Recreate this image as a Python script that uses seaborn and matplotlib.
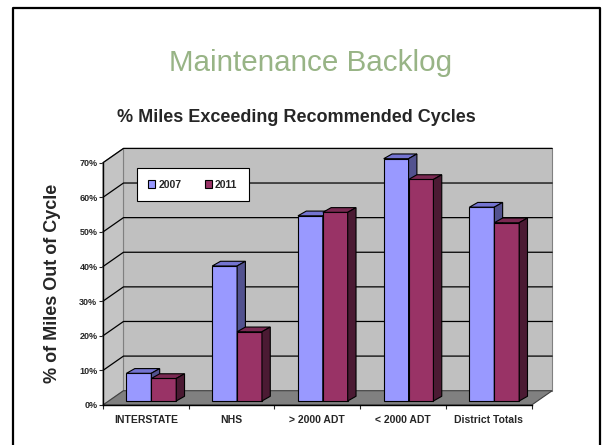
import numpy as np
import pandas as pd
import seaborn as sns
import matplotlib.pyplot as plt
from matplotlib.patches import Polygon, Rectangle
from matplotlib.transforms import Affine2D
from matplotlib.lines import Line2D

categories = ["INTERSTATE", "NHS", "> 2000 ADT", "< 2000 ADT", "District Totals"]
years = ["2007", "2011"]
pct_2007 = [8, 39, 53.5, 70, 56]
pct_2011 = [6.5, 20, 54.5, 64, 51.5]

front_colors = {"2007": "#9999ff", "2011": "#993366"}
top_colors = {"2007": "#7474d0", "2011": "#7a2952"}
side_colors = {"2007": "#52528f", "2011": "#4b1a33"}

df = pd.DataFrame({
    "category": categories * 2,
    "pct": pct_2007 + pct_2011,
    "year": [years[0]] * len(categories) + [years[1]] * len(categories),
})

sns.set_style("white")
plt.rcParams["font.family"] = ["Liberation Sans", "DejaVu Sans"]

W, H = 602, 445
fig = plt.figure(figsize=(W / 100, H / 100), dpi=100)

# front plane of the 3d box, in pixels
x0, x1, y0, y1 = 103, 531.7, 405, 162.7
ax = fig.add_axes([x0 / W, 1 - y0 / H, (x1 - x0) / W, (y0 - y1) / H])
ax.set_facecolor("none")

n = len(categories)
sns.barplot(data=df, x="category", y="pct", hue="year", palette=front_colors,
            saturation=1, width=0.58, edgecolor="black", linewidth=0.8, ax=ax)
bars = list(ax.patches)[:2 * n]   # 2007 bars first, then 2011

ax.set_xlim(-0.5, n - 0.5)
ax.set_ylim(0, 70)

# depth offsets (data units)
back_dx, back_dy = 0.239, 4.13
bar_dx, bar_dy = 0.064, 1.16
side_dx, side_dy = 0.097, 1.36
xl, xr = -0.5, n - 0.5

# walls and floor
ax.add_patch(Rectangle((xl + back_dx, back_dy), xr - xl, 70, facecolor="#c0c0c0",
                       edgecolor="#808080", lw=0.8, zorder=0.5, clip_on=False))
ax.add_patch(Polygon([(xl, 0), (xl, 70), (xl + back_dx, 70 + back_dy), (xl + back_dx, back_dy)],
                     closed=True, facecolor="#c4c4c4", edgecolor="#808080", lw=0.8,
                     zorder=0.6, clip_on=False))
ax.add_patch(Polygon([(xl, 0), (xr, 0), (xr + back_dx, back_dy), (xl + back_dx, back_dy)],
                     closed=True, facecolor="#808080", edgecolor="#404040", lw=0.8,
                     zorder=1, clip_on=False))
for v in range(10, 71, 10):
    ax.add_line(Line2D([xl, xl + back_dx, xr + back_dx], [v, v + back_dy, v + back_dy],
                       color="black", lw=0.9, zorder=1.2, clip_on=False))

# 3d faces of the bars
shift = Affine2D().translate(bar_dx, bar_dy) + ax.transData
for i, p in enumerate(bars):
    yr = years[i // n]
    z = 3 + i // n
    p.set_transform(shift)
    p.set_zorder(z)
    p.set_clip_on(False)
    bx, bw, bh = p.get_x(), p.get_width(), p.get_height()
    top = Polygon([(bx, bh), (bx + bw, bh), (bx + bw + side_dx, bh + side_dy), (bx + side_dx, bh + side_dy)],
                  closed=True, facecolor=top_colors[yr], edgecolor="black", lw=0.8,
                  transform=shift, zorder=z, clip_on=False)
    side = Polygon([(bx + bw, 0), (bx + bw, bh), (bx + bw + side_dx, bh + side_dy), (bx + bw + side_dx, side_dy)],
                   closed=True, facecolor=side_colors[yr], edgecolor="black", lw=0.8,
                   transform=shift, zorder=z, clip_on=False)
    ax.add_patch(top)
    ax.add_patch(side)

# axes and ticks
for s in ["top", "right"]:
    ax.spines[s].set_visible(False)
for s in ["left", "bottom"]:
    ax.spines[s].set_color("black")
    ax.spines[s].set_linewidth(1)
    ax.spines[s].set_zorder(5)

ax.set_yticks(range(0, 71, 10))
ax.set_yticklabels([f"{v}%" for v in range(0, 71, 10)], fontsize=6.5, fontweight="bold")
ax.tick_params(axis="y", direction="out", length=3, width=0.8, pad=1, left=True)
ax.set_xticks(np.arange(-0.5, n, 1.0))
ax.set_xticklabels([])
ax.set_xticks(range(n), minor=True)
ax.set_xticklabels(categories, minor=True, fontsize=7.5, fontweight="bold")
ax.tick_params(axis="x", which="major", direction="out", length=3, width=0.8, bottom=True)
ax.tick_params(axis="x", which="minor", length=0, pad=7)
ax.set_xlabel("")
ax.set_ylabel("")

handles, labels = ax.get_legend_handles_labels()
leg = ax.legend(handles, labels, loc="upper left", bbox_to_anchor=(0.0786, 0.977), ncol=2,
                frameon=True, fancybox=False, edgecolor="black", framealpha=1,
                borderaxespad=0, borderpad=1.1, handlelength=0.7, handleheight=0.7,
                handletextpad=0.3, columnspacing=2.2, prop={"size": 7.5, "weight": "bold"})
leg.get_frame().set_linewidth(0.8)
leg.set_zorder(6)

fig.text(311 / W, 1 - 63 / H, "Maintenance Backlog", ha="center", va="center",
         fontsize=21.3, color="#98b486")
fig.text(296 / W, 1 - 118 / H, "% Miles Exceeding Recommended Cycles", ha="center",
         va="center", fontsize=13, fontweight="bold")
fig.text(53 / W, 1 - 283 / H, "% of Miles Out of Cycle", ha="center", va="center",
         rotation=90, fontsize=13, fontweight="bold")

# slide frame
fig.add_artist(Line2D([13 / W, 13 / W, 600 / W, 600 / W], [0, 1 - 8 / H, 1 - 8 / H, 0],
                      transform=fig.transFigure, color="black", lw=1.6))

fig.savefig("out.png", dpi=100)
